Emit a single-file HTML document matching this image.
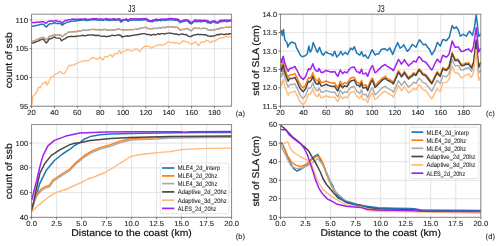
<!DOCTYPE html>
<html><head><meta charset="utf-8"><style>
html,body{margin:0;padding:0;background:#fff;}
svg{display:block;will-change:transform;text-rendering:geometricPrecision;font-family:"Liberation Sans", sans-serif;}
</style></head><body>
<svg width="500" height="246" viewBox="0 0 500 246">
<rect width="500" height="246" fill="#fff"/>
<path d="M31.60 14.20V106.20M54.46 14.20V106.20M77.31 14.20V106.20M100.17 14.20V106.20M123.03 14.20V106.20M145.89 14.20V106.20M168.74 14.20V106.20M191.60 14.20V106.20M214.46 14.20V106.20M31.60 106.20H231.60M31.60 77.45H231.60M31.60 48.70H231.60M31.60 19.95H231.60" stroke="#dcdcdc" stroke-width="0.8" fill="none"/>
<path d="M31.80,26.20 33.17,26.00 34.55,26.08 35.92,25.42 37.30,25.21 38.82,24.98 40.35,24.32 41.88,24.31 43.40,24.12 44.95,25.96 46.50,27.03 48.90,24.22 50.27,23.63 51.65,23.88 53.02,23.37 54.40,22.39 55.92,23.41 57.45,23.57 58.98,23.46 60.50,23.60 62.30,25.29 63.85,23.91 65.40,23.13 66.86,22.34 68.32,22.10 69.78,21.79 71.24,21.24 72.70,21.27 74.22,21.00 75.75,21.11 77.28,20.57 78.80,20.43 80.17,20.25 81.55,20.35 82.92,20.11 84.30,19.90 85.67,20.50 87.05,20.45 88.42,20.26 89.80,20.09 91.15,19.74 92.50,19.68 93.85,19.74 95.20,19.56 96.55,20.19 97.90,19.88 99.25,20.29 100.60,19.89 101.95,20.41 103.30,20.32 104.65,19.57 106.00,19.77 107.35,20.41 108.70,20.03 110.05,20.50 111.40,19.98 112.75,19.70 114.10,20.21 115.45,20.36 116.80,19.91 118.15,19.76 119.50,19.99 120.90,22.16 123.00,20.58 124.75,19.96 126.50,20.02 128.20,21.40 130.00,19.76 131.33,20.41 132.67,19.84 134.00,20.17 135.33,20.05 136.67,19.80 138.00,20.28 139.33,19.72 140.67,20.17 142.00,19.68 143.33,19.94 144.67,19.74 146.00,19.77 147.63,21.01 149.27,21.46 150.90,21.61 152.53,21.74 154.17,20.73 155.80,20.50 157.13,20.86 158.45,20.62 159.78,20.08 161.11,20.82 162.44,20.07 163.76,20.06 165.09,20.47 166.42,20.02 167.75,19.94 169.07,19.68 170.40,19.65 171.86,20.13 173.32,19.87 174.78,20.23 176.24,20.07 177.70,20.18 180.10,22.64 181.62,21.82 183.15,21.50 184.67,21.36 186.20,20.35 187.83,21.33 189.47,23.01 191.10,23.93 192.95,22.32 194.80,21.17 196.13,21.64 197.46,21.79 198.79,21.10 200.11,21.75 201.44,21.66 202.77,21.38 204.10,21.19 205.40,21.31 206.70,21.65 208.00,22.88 209.30,22.63 210.60,23.46 213.10,21.66 214.73,22.63 216.37,22.90 218.00,23.10 220.40,21.39 221.78,21.81 223.15,21.15 224.53,21.22 225.90,21.45 227.28,21.64 228.65,21.35 230.03,20.98 231.40,21.10" stroke="#1f77b4" stroke-width="1.5" fill="none" stroke-linejoin="round" stroke-linecap="round"/>
<path d="M31.80,41.50 33.17,41.03 34.55,40.83 35.92,39.89 37.30,39.41 38.82,38.88 40.35,37.92 41.88,37.61 43.40,37.12 44.95,38.76 46.50,39.63 48.00,38.07 49.50,36.13 51.13,36.18 52.77,35.47 54.40,34.29 55.80,35.11 57.20,35.07 58.60,34.76 60.00,34.70 62.40,36.69 64.90,34.16 66.50,33.58 68.10,32.10 69.47,32.02 70.83,31.87 72.20,31.48 73.57,31.67 74.93,31.45 76.30,31.61 77.61,31.12 78.92,31.03 80.24,30.70 81.55,30.65 82.86,30.26 84.17,29.90 85.49,30.35 86.80,30.15 88.10,29.98 89.40,29.84 90.70,29.46 92.00,29.36 93.30,29.38 94.60,29.16 95.90,29.76 97.20,29.41 98.50,29.78 99.80,29.34 101.20,29.91 102.60,29.87 104.00,29.16 105.40,29.40 106.80,30.09 108.20,29.75 109.60,30.26 111.00,29.79 112.40,29.55 113.82,29.91 115.23,29.90 116.65,29.29 118.07,28.98 119.48,29.06 120.90,29.48 122.75,29.82 124.60,29.78 125.96,29.79 127.31,29.56 128.67,29.42 130.02,29.98 131.38,29.32 132.73,29.56 134.09,29.36 135.44,29.02 136.80,29.41 138.43,28.47 140.07,28.53 141.70,27.65 143.13,27.73 144.57,27.34 146.00,27.19 147.63,28.29 149.27,28.61 150.90,28.62 152.36,28.97 153.82,28.18 155.28,28.16 156.74,28.40 158.20,28.03 159.56,27.43 160.91,28.12 162.27,27.31 163.62,27.24 164.98,27.59 166.33,27.08 167.69,26.94 169.04,26.63 170.40,26.53 171.86,27.07 173.32,26.87 174.78,27.29 176.24,27.18 177.70,27.36 180.10,30.01 181.58,29.39 183.06,29.27 184.54,29.33 186.02,28.51 187.50,28.29 189.30,29.87 191.10,30.69 192.95,28.97 194.80,27.72 196.13,28.24 197.46,28.45 198.79,27.81 200.11,28.52 201.44,28.49 202.77,28.26 204.10,28.13 205.40,28.24 206.70,28.58 208.00,29.82 209.30,29.56 210.60,30.38 212.08,29.74 213.56,30.01 215.04,29.57 216.52,29.05 218.00,28.71 219.30,28.82 220.60,27.85 221.90,27.62 223.20,27.53 224.50,27.42 225.88,27.20 227.26,26.90 228.64,27.48 230.02,26.83 231.40,27.10" stroke="#ff7f0e" stroke-width="1.2" fill="none" stroke-linejoin="round" stroke-linecap="round"/>
<path d="M31.80,41.70 33.17,41.23 34.55,41.03 35.92,40.09 37.30,39.61 38.82,39.08 40.35,38.12 41.88,37.81 43.40,37.32 44.95,38.96 46.50,39.83 48.00,38.27 49.50,36.33 51.13,36.38 52.77,35.67 54.40,34.49 55.80,35.31 57.20,35.27 58.60,34.96 60.00,34.90 62.40,36.89 64.90,34.36 66.50,33.78 68.10,32.30 69.47,32.22 70.83,32.07 72.20,31.68 73.57,31.87 74.93,31.65 76.30,31.81 77.61,31.32 78.92,31.23 80.24,30.90 81.55,30.85 82.86,30.46 84.17,30.10 85.49,30.55 86.80,30.35 88.10,30.18 89.40,30.04 90.70,29.66 92.00,29.56 93.30,29.58 94.60,29.36 95.90,29.96 97.20,29.61 98.50,29.98 99.80,29.54 101.20,30.11 102.60,30.07 104.00,29.36 105.40,29.60 106.80,30.29 108.20,29.95 109.60,30.46 111.00,29.99 112.40,29.75 113.82,30.11 115.23,30.10 116.65,29.49 118.07,29.18 119.48,29.26 120.90,29.68 122.75,30.02 124.60,29.98 125.96,29.99 127.31,29.76 128.67,29.62 130.02,30.18 131.38,29.52 132.73,29.76 134.09,29.56 135.44,29.22 136.80,29.61 138.43,28.67 140.07,28.73 141.70,27.85 143.13,27.93 144.57,27.54 146.00,27.39 147.63,28.49 149.27,28.81 150.90,28.82 152.36,29.17 153.82,28.38 155.28,28.36 156.74,28.60 158.20,28.23 159.56,27.63 160.91,28.32 162.27,27.51 163.62,27.44 164.98,27.79 166.33,27.28 167.69,27.14 169.04,26.83 170.40,26.73 171.86,27.27 173.32,27.07 174.78,27.49 176.24,27.38 177.70,27.56 180.10,30.21 181.58,29.59 183.06,29.47 184.54,29.53 186.02,28.71 187.50,28.49 189.30,30.07 191.10,30.89 192.95,29.17 194.80,27.92 196.13,28.44 197.46,28.65 198.79,28.01 200.11,28.72 201.44,28.69 202.77,28.46 204.10,28.33 205.40,28.44 206.70,28.78 208.00,30.02 209.30,29.76 210.60,30.58 212.08,29.94 213.56,30.21 215.04,29.77 216.52,29.25 218.00,28.91 219.30,29.02 220.60,28.05 221.90,27.82 223.20,27.73 224.50,27.62 225.88,27.40 227.26,27.10 228.64,27.68 230.02,27.03 231.40,27.30" stroke="#aaaaaa" stroke-width="1.35" fill="none" stroke-linejoin="round" stroke-linecap="round"/>
<path d="M31.80,43.30 33.17,42.88 34.55,42.73 35.92,41.84 37.30,41.41 38.82,40.88 40.35,39.92 41.88,39.61 43.40,39.12 44.95,41.41 46.50,42.93 48.00,40.97 49.50,38.63 51.13,38.68 52.77,37.97 54.40,36.79 55.80,37.88 57.20,38.12 58.60,38.09 60.00,38.30 61.60,40.79 64.10,38.96 65.43,38.63 66.77,37.40 68.10,36.72 69.47,36.63 70.83,36.31 72.20,36.57 73.57,36.41 74.93,36.64 76.30,36.22 77.61,36.18 78.92,35.90 80.24,35.90 81.55,35.56 82.86,35.25 84.17,35.75 85.49,35.60 86.80,35.31 88.14,35.23 89.48,34.92 90.82,34.88 92.16,34.98 93.50,34.83 94.84,35.50 96.18,35.21 97.52,35.65 98.86,35.28 100.20,35.84 102.05,36.41 103.90,36.32 105.32,36.31 106.73,36.75 108.15,36.15 109.57,36.41 110.98,35.69 112.40,35.20 113.82,35.61 115.23,35.67 116.65,35.13 118.07,34.88 119.48,35.02 120.90,35.50 122.10,37.23 123.53,36.46 124.97,36.37 126.40,36.04 127.83,35.80 129.27,36.27 130.70,35.51 132.07,35.63 133.45,35.30 134.82,34.85 136.20,35.11 137.57,34.34 138.95,34.58 140.32,33.88 141.70,33.93 143.13,33.67 144.57,33.66 146.00,34.22 147.63,34.51 149.27,34.49 150.90,35.45 152.36,34.62 153.82,34.56 155.28,34.76 156.74,34.35 158.20,33.64 159.72,34.39 161.25,33.64 162.78,33.63 164.30,34.05 165.83,33.55 167.35,33.42 168.88,33.12 170.40,33.03 171.82,33.66 173.23,33.54 174.65,34.04 176.07,34.02 177.48,34.27 178.90,34.91 180.75,34.14 182.60,33.87 184.02,34.61 185.43,34.48 186.85,34.94 188.27,36.10 189.68,36.50 191.10,36.47 192.95,35.37 194.80,34.82 196.30,34.90 197.80,34.13 199.30,34.71 200.80,34.54 202.24,34.61 203.69,34.76 205.13,34.79 206.57,35.04 208.01,36.19 209.46,35.85 210.90,36.58 212.27,35.86 213.63,36.06 215.00,35.54 216.37,34.95 217.73,34.52 219.10,34.70 220.42,34.03 221.74,34.10 223.07,34.32 224.39,34.51 225.71,34.21 227.03,33.84 228.36,34.33 229.68,33.61 231.00,33.80" stroke="#474747" stroke-width="1.4" fill="none" stroke-linejoin="round" stroke-linecap="round"/>
<path d="M32.10,104.00 32.30,101.08 32.50,97.09 34.00,95.25 35.70,93.61 37.40,90.32 38.50,86.96 40.20,88.02 41.90,84.68 43.60,82.71 45.30,82.83 45.90,81.42 47.00,85.13 48.20,83.23 49.90,79.27 51.40,76.86 52.90,76.68 54.40,75.15 55.92,74.09 57.45,73.41 58.98,72.15 60.50,71.32 62.30,73.29 64.10,73.88 65.73,71.23 67.37,68.47 69.00,65.34 70.63,65.52 72.27,65.05 73.90,65.18 75.53,63.93 77.17,63.30 78.80,62.30 80.26,62.05 81.72,61.28 83.18,60.55 84.64,61.08 86.10,60.59 88.00,60.68 89.63,59.69 91.27,58.34 92.90,57.42 94.70,58.40 96.50,59.00 98.35,58.77 100.20,57.06 102.60,60.09 105.10,56.44 106.62,56.92 108.15,56.44 109.67,54.93 111.20,54.89 112.40,57.17 114.80,53.46 117.30,53.57 119.70,50.36 120.90,53.50 123.40,51.28 125.20,50.89 127.00,49.58 128.85,49.92 130.70,50.87 132.50,50.80 134.30,49.56 135.85,49.02 137.40,49.54 139.80,51.74 141.65,48.93 143.50,47.22 144.93,46.15 146.37,46.48 147.80,46.13 149.65,46.62 151.50,48.22 152.88,46.78 154.25,46.90 155.62,45.56 157.00,45.39 158.46,44.86 159.92,44.70 161.38,45.44 162.84,44.96 164.30,44.03 165.83,44.04 167.37,42.29 168.90,41.75 170.47,42.62 172.05,42.55 173.62,42.02 175.20,43.49 176.57,42.62 177.95,42.91 179.32,43.86 180.70,43.46 182.60,41.01 183.95,40.98 185.30,41.28 186.65,42.24 188.00,42.04 189.85,43.64 191.70,44.42 193.55,42.73 195.40,41.64 196.75,43.23 198.10,45.60 199.45,44.66 200.80,42.36 202.18,41.77 203.55,42.27 204.93,41.59 206.30,40.25 207.83,40.60 209.37,41.80 210.90,42.52 212.43,40.88 213.97,41.33 215.50,40.64 216.88,39.77 218.25,39.04 219.62,38.12 221.00,37.55 222.35,38.40 223.70,36.93 225.05,37.14 226.40,36.06 227.93,37.02 229.47,36.87 231.00,36.90" stroke="#ffb978" stroke-width="1.3" fill="none" stroke-linejoin="round" stroke-linecap="round"/>
<path d="M31.80,22.50 33.17,22.50 34.55,22.78 35.92,22.32 37.30,22.31 38.82,22.20 40.35,21.67 41.88,21.79 43.40,21.72 45.90,23.36 48.30,21.23 49.82,21.20 51.35,20.78 52.88,21.20 54.40,20.87 55.92,20.44 57.45,21.43 58.98,21.57 60.50,21.44 62.30,23.20 63.85,21.59 65.40,20.26 66.86,20.49 68.32,19.82 69.78,19.70 71.24,19.51 72.70,19.08 74.22,19.37 75.75,19.25 77.28,19.51 78.80,19.12 80.17,19.20 81.55,19.05 82.92,19.17 84.30,18.96 85.67,18.78 87.05,19.40 88.42,19.37 89.80,19.21 91.15,19.10 92.50,18.75 93.85,18.68 95.20,18.75 96.55,18.56 97.90,19.19 99.25,18.87 100.60,19.28 101.95,18.88 103.30,19.40 104.65,19.31 106.00,18.56 107.35,18.76 108.70,19.40 110.05,19.01 111.40,19.48 112.75,18.96 114.10,18.68 115.45,19.19 116.80,19.33 118.15,18.88 119.50,18.73 120.90,20.55 123.00,19.72 124.75,19.48 126.50,18.86 128.20,20.47 130.00,18.74 131.33,18.69 132.67,19.33 134.00,18.76 135.33,19.09 136.67,18.97 138.00,18.72 139.33,19.19 140.67,18.63 142.00,19.08 143.33,18.59 144.67,18.85 146.00,18.64 147.63,19.29 149.27,20.52 150.90,20.97 152.53,20.12 154.17,20.25 155.80,19.24 157.13,19.35 158.45,19.71 159.78,19.46 161.11,18.92 162.44,19.67 163.76,18.91 165.09,18.90 166.42,19.31 167.75,18.86 169.07,18.77 170.40,18.52 171.86,18.57 173.32,19.05 174.78,18.79 176.24,19.15 177.70,18.98 180.10,21.06 181.62,21.11 183.15,20.29 184.67,19.97 186.20,19.83 187.83,20.21 189.47,21.19 191.10,22.87 192.95,21.69 194.80,20.07 196.13,19.99 197.46,20.46 198.79,20.61 200.11,19.91 201.44,20.56 202.77,20.47 204.10,20.19 205.40,20.43 206.70,20.54 208.00,20.88 209.30,22.12 210.60,21.86 213.10,20.88 214.73,20.95 216.37,21.92 218.00,22.19 220.40,20.31 221.78,20.13 223.15,20.55 224.53,19.89 225.90,19.96 227.28,20.18 228.65,20.37 230.03,20.08 231.40,19.90" stroke="#a020f0" stroke-width="1.5" fill="none" stroke-linejoin="round" stroke-linecap="round"/>
<rect x="31.60" y="14.20" width="200.00" height="92.00" fill="none" stroke="#808080" stroke-width="0.9"/>
<path d="M31.60 106.20v2.0M54.46 106.20v2.0M77.31 106.20v2.0M100.17 106.20v2.0M123.03 106.20v2.0M145.89 106.20v2.0M168.74 106.20v2.0M191.60 106.20v2.0M214.46 106.20v2.0M31.60 106.20h-2.0M31.60 77.45h-2.0M31.60 48.70h-2.0M31.60 19.95h-2.0" stroke="#555" stroke-width="0.8" fill="none"/>
<text x="31.60" y="115.20" font-size="7.3" text-anchor="middle" fill="#262626" stroke="#262626" stroke-width="0.08" textLength="8.46" lengthAdjust="spacingAndGlyphs">20</text>
<text x="54.46" y="115.20" font-size="7.3" text-anchor="middle" fill="#262626" stroke="#262626" stroke-width="0.08" textLength="8.46" lengthAdjust="spacingAndGlyphs">40</text>
<text x="77.31" y="115.20" font-size="7.3" text-anchor="middle" fill="#262626" stroke="#262626" stroke-width="0.08" textLength="8.46" lengthAdjust="spacingAndGlyphs">60</text>
<text x="100.17" y="115.20" font-size="7.3" text-anchor="middle" fill="#262626" stroke="#262626" stroke-width="0.08" textLength="8.46" lengthAdjust="spacingAndGlyphs">80</text>
<text x="123.03" y="115.20" font-size="7.3" text-anchor="middle" fill="#262626" stroke="#262626" stroke-width="0.08" textLength="12.69" lengthAdjust="spacingAndGlyphs">100</text>
<text x="145.89" y="115.20" font-size="7.3" text-anchor="middle" fill="#262626" stroke="#262626" stroke-width="0.08" textLength="12.69" lengthAdjust="spacingAndGlyphs">120</text>
<text x="168.74" y="115.20" font-size="7.3" text-anchor="middle" fill="#262626" stroke="#262626" stroke-width="0.08" textLength="12.69" lengthAdjust="spacingAndGlyphs">140</text>
<text x="191.60" y="115.20" font-size="7.3" text-anchor="middle" fill="#262626" stroke="#262626" stroke-width="0.08" textLength="12.69" lengthAdjust="spacingAndGlyphs">160</text>
<text x="214.46" y="115.20" font-size="7.3" text-anchor="middle" fill="#262626" stroke="#262626" stroke-width="0.08" textLength="12.69" lengthAdjust="spacingAndGlyphs">180</text>
<text x="28.20" y="108.80" font-size="7.3" text-anchor="end" fill="#262626" stroke="#262626" stroke-width="0.08" textLength="8.46" lengthAdjust="spacingAndGlyphs">95</text>
<text x="28.20" y="80.05" font-size="7.3" text-anchor="end" fill="#262626" stroke="#262626" stroke-width="0.08" textLength="12.69" lengthAdjust="spacingAndGlyphs">100</text>
<text x="28.20" y="51.30" font-size="7.3" text-anchor="end" fill="#262626" stroke="#262626" stroke-width="0.08" textLength="12.69" lengthAdjust="spacingAndGlyphs">105</text>
<text x="28.20" y="22.55" font-size="7.3" text-anchor="end" fill="#262626" stroke="#262626" stroke-width="0.08" textLength="12.69" lengthAdjust="spacingAndGlyphs">110</text>
<text x="131.80" y="12.00" font-size="10.0" text-anchor="middle" fill="#262626" stroke="#262626" stroke-width="0.08" textLength="7.45" lengthAdjust="spacingAndGlyphs">J3</text>
<text x="12.40" y="60.30" font-size="9.7" text-anchor="middle" fill="#111" stroke="#111" stroke-width="0.18" textLength="56.11" lengthAdjust="spacingAndGlyphs" transform="rotate(-90 12.40 60.30)">count of ssb</text>
<text x="240.40" y="116.20" font-size="7.6" text-anchor="middle" fill="#262626" stroke="#262626" stroke-width="0.08" textLength="9.19" lengthAdjust="spacingAndGlyphs">(a)</text>
<path d="M280.50 14.20V106.20M303.39 14.20V106.20M326.28 14.20V106.20M349.17 14.20V106.20M372.07 14.20V106.20M394.96 14.20V106.20M417.85 14.20V106.20M440.74 14.20V106.20M463.63 14.20V106.20M280.50 106.20H480.80M280.50 87.80H480.80M280.50 69.40H480.80M280.50 51.00H480.80M280.50 32.60H480.80M280.50 14.20H480.80" stroke="#dcdcdc" stroke-width="0.8" fill="none"/>
<path d="M280.60,32.30 281.40,30.75 282.30,35.45 283.50,29.47 284.70,39.64 285.90,41.37 287.10,42.86 287.80,47.01 289.00,44.64 291.50,42.03 293.60,42.67 295.10,43.19 296.60,48.12 298.10,50.53 300.20,54.92 301.70,56.52 303.20,56.43 305.20,55.75 307.30,53.88 308.80,46.10 310.30,52.28 311.80,49.25 313.20,42.46 315.40,47.99 317.40,52.44 319.50,47.32 321.50,53.11 323.50,55.12 324.80,52.98 326.10,51.88 328.10,53.44 330.60,53.67 332.70,55.85 334.70,51.36 336.70,56.96 338.80,55.01 340.90,51.48 342.70,54.93 345.10,52.41 347.60,54.49 349.10,51.30 350.60,48.10 352.50,49.79 354.30,46.70 356.70,52.94 358.25,54.17 359.80,55.03 361.60,51.68 363.40,56.43 365.30,54.79 366.80,57.33 368.30,58.32 370.15,54.02 372.00,49.76 373.50,51.90 375.00,54.99 376.85,53.94 378.70,53.97 381.10,49.76 382.95,48.97 384.80,48.68 387.20,50.51 389.70,47.90 391.20,51.14 392.70,54.48 394.25,50.41 395.80,46.84 397.70,42.64 400.10,48.27 401.95,46.91 403.80,44.76 405.60,48.45 407.40,51.45 409.03,49.56 410.67,47.16 412.30,44.38 414.15,45.74 416.00,47.27 417.80,42.97 419.60,39.76 421.45,42.17 423.30,44.82 425.70,44.16 427.55,47.32 429.40,49.13 431.80,54.75 434.20,51.19 435.75,47.42 437.30,42.38 438.80,44.30 440.30,45.95 442.80,39.48 444.60,40.07 446.40,40.76 447.85,38.73 449.30,37.42 450.75,31.21 452.20,25.58 454.20,28.66 456.30,26.85 458.30,29.98 460.30,36.13 461.85,35.08 463.40,34.28 464.90,35.44 466.40,36.16 467.95,33.35 469.50,31.22 471.00,33.17 472.50,35.37 474.60,26.65 476.20,14.69 477.60,26.22 478.60,36.52 480.40,34.30" stroke="#1f77b4" stroke-width="1.5" fill="none" stroke-linejoin="round" stroke-linecap="round"/>
<path d="M280.60,66.09 281.30,64.75 281.70,67.71 282.50,63.25 283.30,61.73 284.10,66.18 285.30,70.15 286.90,74.54 288.20,77.57 289.40,75.34 290.20,74.80 292.60,74.69 294.90,73.68 295.90,75.73 297.50,78.68 299.10,82.62 300.80,85.49 303.20,87.96 305.60,85.11 306.50,82.57 308.50,77.55 310.10,78.30 311.45,76.23 312.80,72.78 314.40,77.40 316.20,80.27 318.00,80.85 318.90,78.06 321.30,82.58 322.93,82.33 324.57,81.73 326.20,80.81 327.60,81.77 329.00,82.07 330.40,82.85 331.83,82.85 333.27,83.18 334.70,82.79 336.00,85.21 337.80,87.76 340.30,81.34 342.70,84.72 344.50,82.68 347.00,83.60 348.80,80.57 350.60,78.32 352.45,77.57 354.30,77.21 356.70,82.27 358.25,82.63 359.80,84.12 361.60,80.39 362.80,85.14 364.35,85.38 365.90,84.67 367.70,88.24 369.55,83.18 371.40,79.19 372.60,78.14 375.00,85.14 376.85,83.82 378.70,81.63 380.20,80.29 381.70,78.48 383.45,77.49 385.20,76.39 386.53,77.65 387.87,78.63 389.20,79.04 390.57,80.24 391.93,80.64 393.30,82.29 395.30,77.95 396.85,74.63 398.40,70.79 399.90,72.80 401.40,75.45 402.95,73.80 404.50,71.23 405.83,73.76 407.17,75.56 408.50,77.60 410.20,75.92 411.90,75.00 413.60,72.74 416.00,74.07 417.50,71.23 419.00,68.73 420.85,70.43 422.70,73.29 424.20,73.71 425.70,74.37 427.55,76.78 429.40,79.30 431.80,82.36 433.60,78.92 435.45,74.94 437.30,71.54 438.80,73.73 440.30,75.03 442.80,67.57 444.60,68.39 446.40,69.15 447.75,67.60 449.10,65.91 450.65,59.18 452.20,52.53 453.70,56.18 455.20,59.37 456.75,59.26 458.30,59.34 459.80,61.82 461.30,64.38 462.85,64.17 464.40,63.93 465.77,62.85 467.13,63.24 468.50,62.67 470.00,64.84 471.50,66.83 473.50,62.09 474.85,51.00 476.20,39.60 477.60,55.53 478.60,66.45 480.40,62.32" stroke="#ff7f0e" stroke-width="1.5" fill="none" stroke-linejoin="round" stroke-linecap="round"/>
<path d="M280.60,75.13 281.30,73.83 281.70,76.82 282.50,72.42 283.30,70.96 284.10,75.46 285.30,79.51 286.90,84.01 288.20,87.13 289.40,84.98 290.20,84.50 292.60,84.55 294.90,83.69 295.90,85.82 297.50,88.87 299.10,92.93 300.80,95.91 303.20,98.41 305.60,95.46 306.50,92.89 308.50,87.79 310.10,88.48 311.45,86.36 312.80,82.85 314.40,87.41 316.20,90.21 318.00,90.72 318.90,87.89 321.30,92.32 322.93,92.00 324.57,91.34 326.20,90.35 327.60,91.26 329.00,91.50 330.40,92.23 331.83,92.18 333.27,92.45 334.70,92.00 336.00,94.37 337.80,96.84 340.30,90.35 342.70,93.76 344.50,91.76 347.00,92.72 348.80,89.72 350.60,87.50 352.45,86.77 354.30,86.45 356.70,91.55 358.25,91.94 359.80,93.45 361.60,89.75 362.80,94.52 364.35,94.79 365.90,94.10 367.70,97.70 369.55,92.67 371.40,88.71 372.60,87.68 375.00,94.73 376.85,93.43 378.70,91.27 380.20,89.96 381.70,88.17 383.45,87.21 385.20,86.14 386.53,87.43 387.87,88.43 389.20,88.86 390.57,90.08 391.93,90.51 393.30,92.18 395.30,87.87 396.85,84.58 398.40,80.76 399.90,82.76 401.40,85.40 402.95,83.69 404.50,81.06 405.83,83.54 407.17,85.29 408.50,87.28 410.20,85.54 411.90,84.56 413.60,82.23 416.00,83.47 417.50,80.57 419.00,78.01 420.85,79.65 422.70,82.44 424.20,82.80 425.70,83.41 427.55,85.75 429.40,88.20 431.80,91.16 433.60,87.66 435.45,83.61 437.30,80.14 438.80,82.26 440.30,83.49 442.80,75.72 444.60,76.31 446.40,76.85 447.75,75.13 449.10,73.27 450.65,66.35 452.20,59.50 453.70,62.97 455.20,65.97 456.75,65.67 458.30,65.55 459.80,67.84 461.30,70.22 462.85,69.82 464.40,69.38 465.77,68.13 467.13,68.35 468.50,67.61 470.00,69.59 471.50,71.40 473.50,66.40 474.85,55.26 476.20,43.80 477.60,61.13 478.60,73.05 480.40,70.72" stroke="#aaaaaa" stroke-width="1.4" fill="none" stroke-linejoin="round" stroke-linecap="round"/>
<path d="M280.60,69.60 281.30,68.27 281.70,71.23 282.50,66.78 283.30,65.28 284.10,69.74 285.30,73.73 286.90,78.15 288.20,81.19 289.40,78.98 290.20,78.45 292.60,78.38 294.90,77.40 295.90,79.47 297.50,82.44 299.10,86.41 300.80,89.28 303.20,91.71 305.60,88.82 306.50,86.27 308.50,81.22 310.10,81.95 311.45,79.86 312.80,76.39 314.40,80.98 316.20,83.82 318.00,84.38 318.90,81.57 321.30,86.06 322.93,85.78 324.57,85.16 326.20,84.21 327.60,85.15 329.00,85.43 330.40,86.19 331.83,86.18 333.27,86.48 334.70,86.07 336.00,88.47 337.80,90.99 340.30,84.53 342.70,87.84 344.50,85.75 347.00,86.61 348.80,83.52 350.60,81.22 352.45,80.41 354.30,80.01 356.70,85.00 358.25,85.31 359.80,86.76 361.60,82.98 362.80,87.70 364.35,87.89 365.90,87.14 367.70,90.65 369.55,85.54 371.40,81.50 372.60,80.42 375.00,87.35 376.85,85.97 378.70,83.73 380.20,82.35 381.70,80.50 383.45,79.46 385.20,78.31 386.53,79.53 387.87,80.48 389.20,80.84 390.57,82.00 391.93,82.37 393.30,83.98 395.30,79.58 396.85,76.22 398.40,72.34 399.90,74.32 401.40,76.94 402.95,75.29 404.50,72.71 405.83,75.24 407.17,77.03 408.50,79.07 410.20,77.38 411.90,76.46 413.60,74.19 416.00,75.51 417.50,72.66 419.00,70.16 420.85,71.85 422.70,74.71 424.20,75.12 425.70,75.77 427.55,78.18 429.40,80.70 431.80,83.74 433.60,80.29 435.45,76.31 437.30,72.91 438.80,75.08 440.30,76.38 442.80,68.91 444.60,69.72 446.40,70.48 447.75,68.93 449.10,67.22 450.65,60.50 452.20,53.84 453.70,57.48 455.20,60.66 456.75,60.55 458.30,60.62 459.80,63.09 461.30,65.65 462.85,65.44 464.40,65.19 465.77,64.11 467.13,64.49 468.50,63.92 470.00,66.08 471.50,68.07 473.50,63.32 474.85,52.22 476.20,40.82 477.60,56.75 478.60,67.66 480.40,63.52" stroke="#474747" stroke-width="1.5" fill="none" stroke-linejoin="round" stroke-linecap="round"/>
<path d="M280.60,84.06 281.30,82.69 281.70,85.63 282.50,81.13 283.30,79.58 284.10,83.99 285.30,87.91 286.90,92.23 288.20,95.19 289.40,92.92 290.20,92.34 292.60,92.12 294.90,91.00 295.90,93.01 297.50,95.88 299.10,99.76 300.80,102.54 303.20,104.85 305.60,101.79 306.50,99.17 308.50,93.98 310.10,94.59 311.45,92.40 312.80,88.83 314.40,93.30 316.20,96.01 318.00,96.44 318.90,93.57 321.30,97.88 322.93,97.48 324.57,96.74 326.20,95.67 327.60,96.51 329.00,96.69 330.40,97.35 331.83,97.22 333.27,97.42 334.70,96.90 336.00,99.21 337.80,101.78 340.30,95.41 342.70,98.82 344.50,96.81 347.00,97.78 348.80,94.77 350.60,92.55 352.45,91.82 354.30,91.50 356.70,96.60 358.25,96.98 359.80,98.49 361.60,94.79 362.80,99.56 364.35,99.82 365.90,99.14 367.70,102.73 369.55,97.70 371.40,93.74 372.60,92.71 375.00,99.75 376.85,98.46 378.70,96.29 380.20,94.98 381.70,93.19 383.45,92.23 385.20,91.16 386.53,92.44 387.87,93.44 389.20,93.87 390.57,95.09 391.93,95.51 393.30,97.18 395.30,92.88 396.85,89.58 398.40,85.77 399.90,87.82 401.40,90.52 402.95,88.95 404.50,86.45 405.83,89.05 407.17,90.92 408.50,93.02 410.20,91.43 411.90,90.60 413.60,88.42 416.00,89.87 417.50,87.10 419.00,84.68 420.85,86.47 422.70,89.42 424.20,89.92 425.70,90.65 427.55,93.16 429.40,95.77 431.80,98.95 433.60,95.60 435.45,91.71 437.30,88.41 438.80,90.56 440.30,91.84 442.80,82.79 444.60,82.61 446.40,82.38 447.75,80.90 449.10,79.28 450.65,72.65 452.20,66.08 453.70,69.82 455.20,73.09 456.75,73.07 458.30,73.24 459.80,75.54 461.30,77.92 462.85,77.18 464.40,76.39 465.77,74.87 467.13,74.81 468.50,73.80 470.00,75.75 471.50,77.52 473.50,72.49 474.85,61.20 476.20,49.60 477.60,67.87 478.60,80.45 480.40,76.47" stroke="#ffb978" stroke-width="1.4" fill="none" stroke-linejoin="round" stroke-linecap="round"/>
<path d="M280.60,61.00 281.30,59.55 281.70,62.45 282.50,57.87 283.30,56.24 284.10,60.57 285.30,64.36 286.90,68.51 288.20,71.34 289.40,68.93 290.20,68.27 292.60,67.79 294.90,66.42 295.90,68.33 297.50,71.02 299.10,74.72 300.80,77.33 303.20,79.45 305.60,76.48 306.50,73.90 308.50,68.78 310.10,69.45 311.45,67.31 312.80,63.79 314.40,68.24 316.20,70.92 318.00,71.31 318.90,68.42 321.30,72.68 322.93,72.25 324.57,71.47 326.20,70.37 327.60,71.18 329.00,71.33 330.40,71.96 331.83,71.81 333.27,71.98 334.70,71.43 336.00,73.71 337.80,76.39 340.30,70.15 342.70,73.70 344.50,71.79 347.00,72.90 348.80,69.99 350.60,67.87 352.45,67.23 354.30,66.98 356.70,71.73 358.25,71.89 359.80,73.18 361.60,69.22 362.80,73.82 364.35,73.86 365.90,72.95 367.70,76.29 369.55,70.99 371.40,66.77 372.60,65.66 375.00,72.77 376.85,71.53 378.70,69.41 380.20,68.15 381.70,66.39 383.45,65.48 385.20,64.46 386.53,65.77 387.87,66.81 389.20,67.27 390.57,68.53 391.93,68.99 393.30,70.70 395.30,66.45 396.85,63.19 398.40,59.42 399.90,61.43 401.40,64.09 402.95,62.37 404.50,59.72 405.83,62.20 407.17,63.93 408.50,65.92 410.20,64.16 411.90,63.17 413.60,60.83 416.00,62.05 417.50,59.14 419.00,56.57 420.85,58.23 422.70,61.05 424.20,61.45 425.70,62.08 427.55,64.47 429.40,66.96 431.80,69.98 433.60,66.52 435.45,62.51 437.30,59.08 438.80,61.26 440.30,62.55 442.80,55.28 444.60,56.23 446.40,57.13 447.75,55.68 449.10,54.09 450.65,47.46 452.20,40.90 453.70,44.37 455.20,47.37 456.75,47.07 458.30,46.95 459.80,49.24 461.30,51.62 462.85,51.22 464.40,50.78 465.77,49.49 467.13,49.67 468.50,48.88 470.00,50.47 471.50,51.90 473.50,46.39 474.85,37.25 476.20,27.80 477.60,40.53 478.60,52.16 480.40,48.60" stroke="#a020f0" stroke-width="1.5" fill="none" stroke-linejoin="round" stroke-linecap="round"/>
<rect x="280.50" y="14.20" width="200.30" height="92.00" fill="none" stroke="#808080" stroke-width="0.9"/>
<path d="M280.50 106.20v2.0M303.39 106.20v2.0M326.28 106.20v2.0M349.17 106.20v2.0M372.07 106.20v2.0M394.96 106.20v2.0M417.85 106.20v2.0M440.74 106.20v2.0M463.63 106.20v2.0M280.50 106.20h-2.0M280.50 87.80h-2.0M280.50 69.40h-2.0M280.50 51.00h-2.0M280.50 32.60h-2.0M280.50 14.20h-2.0" stroke="#555" stroke-width="0.8" fill="none"/>
<text x="280.50" y="115.20" font-size="7.3" text-anchor="middle" fill="#262626" stroke="#262626" stroke-width="0.08" textLength="8.46" lengthAdjust="spacingAndGlyphs">20</text>
<text x="303.39" y="115.20" font-size="7.3" text-anchor="middle" fill="#262626" stroke="#262626" stroke-width="0.08" textLength="8.46" lengthAdjust="spacingAndGlyphs">40</text>
<text x="326.28" y="115.20" font-size="7.3" text-anchor="middle" fill="#262626" stroke="#262626" stroke-width="0.08" textLength="8.46" lengthAdjust="spacingAndGlyphs">60</text>
<text x="349.17" y="115.20" font-size="7.3" text-anchor="middle" fill="#262626" stroke="#262626" stroke-width="0.08" textLength="8.46" lengthAdjust="spacingAndGlyphs">80</text>
<text x="372.07" y="115.20" font-size="7.3" text-anchor="middle" fill="#262626" stroke="#262626" stroke-width="0.08" textLength="12.69" lengthAdjust="spacingAndGlyphs">100</text>
<text x="394.96" y="115.20" font-size="7.3" text-anchor="middle" fill="#262626" stroke="#262626" stroke-width="0.08" textLength="12.69" lengthAdjust="spacingAndGlyphs">120</text>
<text x="417.85" y="115.20" font-size="7.3" text-anchor="middle" fill="#262626" stroke="#262626" stroke-width="0.08" textLength="12.69" lengthAdjust="spacingAndGlyphs">140</text>
<text x="440.74" y="115.20" font-size="7.3" text-anchor="middle" fill="#262626" stroke="#262626" stroke-width="0.08" textLength="12.69" lengthAdjust="spacingAndGlyphs">160</text>
<text x="463.63" y="115.20" font-size="7.3" text-anchor="middle" fill="#262626" stroke="#262626" stroke-width="0.08" textLength="12.69" lengthAdjust="spacingAndGlyphs">180</text>
<text x="277.20" y="108.80" font-size="7.3" text-anchor="end" fill="#262626" stroke="#262626" stroke-width="0.08" textLength="14.80" lengthAdjust="spacingAndGlyphs">11.5</text>
<text x="277.20" y="90.40" font-size="7.3" text-anchor="end" fill="#262626" stroke="#262626" stroke-width="0.08" textLength="14.80" lengthAdjust="spacingAndGlyphs">12.0</text>
<text x="277.20" y="72.00" font-size="7.3" text-anchor="end" fill="#262626" stroke="#262626" stroke-width="0.08" textLength="14.80" lengthAdjust="spacingAndGlyphs">12.5</text>
<text x="277.20" y="53.60" font-size="7.3" text-anchor="end" fill="#262626" stroke="#262626" stroke-width="0.08" textLength="14.80" lengthAdjust="spacingAndGlyphs">13.0</text>
<text x="277.20" y="35.20" font-size="7.3" text-anchor="end" fill="#262626" stroke="#262626" stroke-width="0.08" textLength="14.80" lengthAdjust="spacingAndGlyphs">13.5</text>
<text x="277.20" y="16.80" font-size="7.3" text-anchor="end" fill="#262626" stroke="#262626" stroke-width="0.08" textLength="14.80" lengthAdjust="spacingAndGlyphs">14.0</text>
<text x="380.85" y="12.00" font-size="10.0" text-anchor="middle" fill="#262626" stroke="#262626" stroke-width="0.08" textLength="7.45" lengthAdjust="spacingAndGlyphs">J3</text>
<text x="258.70" y="60.30" font-size="9.7" text-anchor="middle" fill="#111" stroke="#111" stroke-width="0.18" textLength="70.73" lengthAdjust="spacingAndGlyphs" transform="rotate(-90 258.70 60.30)">std of SLA (cm)</text>
<text x="490.30" y="116.20" font-size="7.6" text-anchor="middle" fill="#262626" stroke="#262626" stroke-width="0.08" textLength="8.78" lengthAdjust="spacingAndGlyphs">(c)</text>
<path d="M31.60 124.60V217.30M56.60 124.60V217.30M81.60 124.60V217.30M106.60 124.60V217.30M131.60 124.60V217.30M156.60 124.60V217.30M181.60 124.60V217.30M206.60 124.60V217.30M231.60 124.60V217.30M31.60 217.30H231.60M31.60 192.58H231.60M31.60 167.86H231.60M31.60 143.14H231.60" stroke="#dcdcdc" stroke-width="0.8" fill="none"/>
<path d="M31.90,209.00 33.70,203.30 36.10,196.00 39.80,183.30 46.30,170.30 54.40,160.50 62.50,154.00 70.00,149.10 74.70,145.50 80.00,142.30 84.00,139.30 90.20,136.60 100.30,134.80 110.50,134.00 130.00,133.60 160.00,133.00 200.00,132.50 231.40,132.40" stroke="#1f77b4" stroke-width="1.5" fill="none" stroke-linejoin="round" stroke-linecap="round"/>
<path d="M31.90,210.60 34.30,201.20 37.30,195.10 41.00,190.90 44.60,188.40 49.50,186.80 52.80,181.60 62.50,175.10 70.00,170.30 76.30,163.60 84.40,157.00 92.50,152.20 100.70,148.90 110.50,146.20 119.80,142.80 131.10,140.00 142.50,139.40 157.20,138.96 170.00,138.05 231.40,137.20" stroke="#aaaaaa" stroke-width="1.5" fill="none" stroke-linejoin="round" stroke-linecap="round"/>
<path d="M31.90,209.00 34.30,199.60 37.30,193.50 41.00,189.30 44.60,186.80 49.50,185.20 52.80,180.00 62.50,173.50 70.00,168.70 76.30,162.00 84.40,155.40 92.50,150.60 100.70,147.30 110.50,144.60 119.80,141.20 131.10,138.50 142.50,138.00 157.20,137.70 170.00,136.90 231.40,136.60" stroke="#ff7f0e" stroke-width="1.3" fill="none" stroke-linejoin="round" stroke-linecap="round"/>
<path d="M31.90,209.00 33.70,202.00 36.10,190.00 39.80,173.50 44.60,163.80 51.10,155.60 59.30,150.10 70.00,144.60 74.70,143.30 81.10,142.40 90.20,140.50 100.70,139.50 110.50,138.60 130.00,137.60 170.00,136.60 231.40,136.10" stroke="#474747" stroke-width="1.5" fill="none" stroke-linejoin="round" stroke-linecap="round"/>
<path d="M31.90,211.70 37.30,206.30 42.20,202.10 48.30,197.20 54.40,193.30 60.00,191.10 64.60,190.00 70.00,187.50 81.70,182.40 88.00,179.00 93.00,177.30 98.80,175.00 105.00,172.50 111.00,169.00 116.50,165.50 124.60,160.30 130.00,157.00 132.80,155.90 142.50,154.30 157.20,152.60 170.00,151.60 181.00,149.60 206.00,148.40 231.40,148.10" stroke="#ffb978" stroke-width="1.4" fill="none" stroke-linejoin="round" stroke-linecap="round"/>
<path d="M31.90,199.50 33.30,194.00 35.50,185.00 36.50,181.50 39.80,167.00 43.00,155.60 47.90,145.90 54.40,140.40 65.80,136.10 80.00,133.00 106.00,132.00 130.00,131.80 160.00,131.80 180.00,131.80 185.00,132.20 190.00,131.80 231.40,131.60" stroke="#a020f0" stroke-width="1.5" fill="none" stroke-linejoin="round" stroke-linecap="round"/>
<rect x="31.60" y="124.60" width="200.00" height="92.70" fill="none" stroke="#808080" stroke-width="0.9"/>
<path d="M31.60 217.30v2.0M56.60 217.30v2.0M81.60 217.30v2.0M106.60 217.30v2.0M131.60 217.30v2.0M156.60 217.30v2.0M181.60 217.30v2.0M206.60 217.30v2.0M231.60 217.30v2.0M31.60 217.30h-2.0M31.60 192.58h-2.0M31.60 167.86h-2.0M31.60 143.14h-2.0" stroke="#555" stroke-width="0.8" fill="none"/>
<text x="31.60" y="226.00" font-size="7.3" text-anchor="middle" fill="#262626" stroke="#262626" stroke-width="0.08" textLength="10.57" lengthAdjust="spacingAndGlyphs">0.0</text>
<text x="56.60" y="226.00" font-size="7.3" text-anchor="middle" fill="#262626" stroke="#262626" stroke-width="0.08" textLength="10.57" lengthAdjust="spacingAndGlyphs">2.5</text>
<text x="81.60" y="226.00" font-size="7.3" text-anchor="middle" fill="#262626" stroke="#262626" stroke-width="0.08" textLength="10.57" lengthAdjust="spacingAndGlyphs">5.0</text>
<text x="106.60" y="226.00" font-size="7.3" text-anchor="middle" fill="#262626" stroke="#262626" stroke-width="0.08" textLength="10.57" lengthAdjust="spacingAndGlyphs">7.5</text>
<text x="131.60" y="226.00" font-size="7.3" text-anchor="middle" fill="#262626" stroke="#262626" stroke-width="0.08" textLength="14.80" lengthAdjust="spacingAndGlyphs">10.0</text>
<text x="156.60" y="226.00" font-size="7.3" text-anchor="middle" fill="#262626" stroke="#262626" stroke-width="0.08" textLength="14.80" lengthAdjust="spacingAndGlyphs">12.5</text>
<text x="181.60" y="226.00" font-size="7.3" text-anchor="middle" fill="#262626" stroke="#262626" stroke-width="0.08" textLength="14.80" lengthAdjust="spacingAndGlyphs">15.0</text>
<text x="206.60" y="226.00" font-size="7.3" text-anchor="middle" fill="#262626" stroke="#262626" stroke-width="0.08" textLength="14.80" lengthAdjust="spacingAndGlyphs">17.5</text>
<text x="231.60" y="226.00" font-size="7.3" text-anchor="middle" fill="#262626" stroke="#262626" stroke-width="0.08" textLength="14.80" lengthAdjust="spacingAndGlyphs">20.0</text>
<text x="28.20" y="219.90" font-size="7.3" text-anchor="end" fill="#262626" stroke="#262626" stroke-width="0.08" textLength="8.46" lengthAdjust="spacingAndGlyphs">40</text>
<text x="28.20" y="195.18" font-size="7.3" text-anchor="end" fill="#262626" stroke="#262626" stroke-width="0.08" textLength="8.46" lengthAdjust="spacingAndGlyphs">60</text>
<text x="28.20" y="170.46" font-size="7.3" text-anchor="end" fill="#262626" stroke="#262626" stroke-width="0.08" textLength="8.46" lengthAdjust="spacingAndGlyphs">80</text>
<text x="28.20" y="145.74" font-size="7.3" text-anchor="end" fill="#262626" stroke="#262626" stroke-width="0.08" textLength="12.69" lengthAdjust="spacingAndGlyphs">100</text>
<text x="131.60" y="235.80" font-size="9.7" text-anchor="middle" fill="#111" stroke="#111" stroke-width="0.18" textLength="120.46" lengthAdjust="spacingAndGlyphs">Distance to the coast (km)</text>
<text x="12.40" y="171.25" font-size="9.7" text-anchor="middle" fill="#111" stroke="#111" stroke-width="0.18" textLength="56.11" lengthAdjust="spacingAndGlyphs" transform="rotate(-90 12.40 171.25)">count of ssb</text>
<text x="240.40" y="239.20" font-size="7.6" text-anchor="middle" fill="#262626" stroke="#262626" stroke-width="0.08" textLength="9.34" lengthAdjust="spacingAndGlyphs">(b)</text>
<path d="M280.50 124.60V217.30M305.54 124.60V217.30M330.57 124.60V217.30M355.61 124.60V217.30M380.65 124.60V217.30M405.69 124.60V217.30M430.73 124.60V217.30M455.76 124.60V217.30M480.80 124.60V217.30M280.50 217.30H480.80M280.50 198.76H480.80M280.50 180.22H480.80M280.50 161.68H480.80M280.50 143.14H480.80M280.50 124.60H480.80" stroke="#dcdcdc" stroke-width="0.8" fill="none"/>
<path d="M280.80,142.50 282.60,143.90 286.10,152.90 290.20,163.20 293.40,168.40 296.70,171.00 300.80,169.30 305.60,165.80 310.50,160.20 314.60,156.40 317.80,154.30 320.30,159.40 323.50,165.90 326.00,171.50 330.10,181.30 332.40,185.00 334.10,189.50 338.00,196.40" stroke="#1f77b4" stroke-width="1.5" fill="none" stroke-linejoin="round" stroke-linecap="round"/>
<path d="M280.80,144.50 284.50,148.80 287.80,156.10 291.80,162.60 295.90,165.10 300.80,166.70 306.50,164.30 312.10,159.40 317.00,156.10 320.30,157.80 323.50,164.30 326.00,173.10 330.10,182.90 334.10,191.00 340.70,196.70 346.00,202.00 360.40,206.60 366.80,209.00 378.00,210.30 410.00,210.90 480.40,212.50" stroke="#ff7f0e" stroke-width="1.5" fill="none" stroke-linejoin="round" stroke-linecap="round"/>
<path d="M280.80,146.00 286.10,156.10 291.00,165.90 295.90,168.30 300.80,168.30 307.30,165.90 313.80,161.80 317.80,158.60 321.90,163.50 326.00,171.60 330.00,181.50 334.00,190.00 340.00,196.00 346.00,201.00 355.00,203.50 366.00,207.00 378.00,209.00 410.00,210.00 480.40,211.50" stroke="#aaaaaa" stroke-width="1.3" fill="none" stroke-linejoin="round" stroke-linecap="round"/>
<path d="M280.80,125.50 284.10,128.10 288.20,132.20 292.20,136.60 297.80,141.00 302.40,145.40 304.00,146.40 308.90,151.30 312.60,157.80 316.80,165.00 320.30,172.00 323.20,179.00 326.50,184.50 330.50,189.30 338.00,197.80 346.00,201.80 354.00,203.90 361.20,205.20 366.80,206.90 378.00,208.60 410.00,209.40 421.00,210.80 480.40,211.30" stroke="#474747" stroke-width="1.5" fill="none" stroke-linejoin="round" stroke-linecap="round"/>
<path d="M338.00,196.40 346.00,202.60 354.00,204.60 362.00,205.80 368.40,206.60 378.00,207.70 394.00,208.20 410.00,208.50 414.60,208.70 421.00,210.00 480.40,210.40" stroke="#1f77b4" stroke-width="1.5" fill="none" stroke-linejoin="round" stroke-linecap="round"/>
<path d="M280.80,148.00 284.50,143.10 287.80,141.80 291.00,149.60 294.30,152.90 300.80,157.00 307.30,160.20 311.30,164.30 312.20,165.50 314.60,173.10 317.90,181.30 322.80,189.40 330.00,195.40 336.40,199.40 346.00,205.00 362.00,207.40 368.40,210.60 378.00,211.30 410.00,211.90 480.40,213.00" stroke="#ffb978" stroke-width="1.4" fill="none" stroke-linejoin="round" stroke-linecap="round"/>
<path d="M280.80,129.50 286.10,130.10 289.40,135.00 294.30,139.10 300.80,143.90 304.00,148.00 307.30,154.50 309.70,161.80 312.10,169.10 313.00,171.50 315.40,179.60 318.70,187.80 322.80,194.30 327.60,199.10 330.00,200.20 336.40,203.90 346.00,206.30 360.40,207.40 366.80,209.30 378.00,210.10 410.00,210.40 414.60,210.50 421.00,211.30 480.40,211.60" stroke="#a020f0" stroke-width="1.5" fill="none" stroke-linejoin="round" stroke-linecap="round"/>
<rect x="280.50" y="124.60" width="200.30" height="92.70" fill="none" stroke="#808080" stroke-width="0.9"/>
<path d="M280.50 217.30v2.0M305.54 217.30v2.0M330.57 217.30v2.0M355.61 217.30v2.0M380.65 217.30v2.0M405.69 217.30v2.0M430.73 217.30v2.0M455.76 217.30v2.0M480.80 217.30v2.0M280.50 217.30h-2.0M280.50 198.76h-2.0M280.50 180.22h-2.0M280.50 161.68h-2.0M280.50 143.14h-2.0M280.50 124.60h-2.0" stroke="#555" stroke-width="0.8" fill="none"/>
<text x="280.50" y="226.00" font-size="7.3" text-anchor="middle" fill="#262626" stroke="#262626" stroke-width="0.08" textLength="10.57" lengthAdjust="spacingAndGlyphs">0.0</text>
<text x="305.54" y="226.00" font-size="7.3" text-anchor="middle" fill="#262626" stroke="#262626" stroke-width="0.08" textLength="10.57" lengthAdjust="spacingAndGlyphs">2.5</text>
<text x="330.57" y="226.00" font-size="7.3" text-anchor="middle" fill="#262626" stroke="#262626" stroke-width="0.08" textLength="10.57" lengthAdjust="spacingAndGlyphs">5.0</text>
<text x="355.61" y="226.00" font-size="7.3" text-anchor="middle" fill="#262626" stroke="#262626" stroke-width="0.08" textLength="10.57" lengthAdjust="spacingAndGlyphs">7.5</text>
<text x="380.65" y="226.00" font-size="7.3" text-anchor="middle" fill="#262626" stroke="#262626" stroke-width="0.08" textLength="14.80" lengthAdjust="spacingAndGlyphs">10.0</text>
<text x="405.69" y="226.00" font-size="7.3" text-anchor="middle" fill="#262626" stroke="#262626" stroke-width="0.08" textLength="14.80" lengthAdjust="spacingAndGlyphs">12.5</text>
<text x="430.73" y="226.00" font-size="7.3" text-anchor="middle" fill="#262626" stroke="#262626" stroke-width="0.08" textLength="14.80" lengthAdjust="spacingAndGlyphs">15.0</text>
<text x="455.76" y="226.00" font-size="7.3" text-anchor="middle" fill="#262626" stroke="#262626" stroke-width="0.08" textLength="14.80" lengthAdjust="spacingAndGlyphs">17.5</text>
<text x="480.80" y="226.00" font-size="7.3" text-anchor="middle" fill="#262626" stroke="#262626" stroke-width="0.08" textLength="14.80" lengthAdjust="spacingAndGlyphs">20.0</text>
<text x="277.20" y="219.90" font-size="7.3" text-anchor="end" fill="#262626" stroke="#262626" stroke-width="0.08" textLength="8.46" lengthAdjust="spacingAndGlyphs">10</text>
<text x="277.20" y="201.36" font-size="7.3" text-anchor="end" fill="#262626" stroke="#262626" stroke-width="0.08" textLength="8.46" lengthAdjust="spacingAndGlyphs">20</text>
<text x="277.20" y="182.82" font-size="7.3" text-anchor="end" fill="#262626" stroke="#262626" stroke-width="0.08" textLength="8.46" lengthAdjust="spacingAndGlyphs">30</text>
<text x="277.20" y="164.28" font-size="7.3" text-anchor="end" fill="#262626" stroke="#262626" stroke-width="0.08" textLength="8.46" lengthAdjust="spacingAndGlyphs">40</text>
<text x="277.20" y="145.74" font-size="7.3" text-anchor="end" fill="#262626" stroke="#262626" stroke-width="0.08" textLength="8.46" lengthAdjust="spacingAndGlyphs">50</text>
<text x="277.20" y="127.20" font-size="7.3" text-anchor="end" fill="#262626" stroke="#262626" stroke-width="0.08" textLength="8.46" lengthAdjust="spacingAndGlyphs">60</text>
<text x="380.65" y="235.80" font-size="9.7" text-anchor="middle" fill="#111" stroke="#111" stroke-width="0.18" textLength="120.46" lengthAdjust="spacingAndGlyphs">Distance to the coast (km)</text>
<text x="258.70" y="171.25" font-size="9.7" text-anchor="middle" fill="#111" stroke="#111" stroke-width="0.18" textLength="70.73" lengthAdjust="spacingAndGlyphs" transform="rotate(-90 258.70 171.25)">std of SLA (cm)</text>
<text x="490.30" y="239.20" font-size="7.6" text-anchor="middle" fill="#262626" stroke="#262626" stroke-width="0.08" textLength="9.34" lengthAdjust="spacingAndGlyphs">(d)</text>
<rect x="160.2" y="163.0" width="68.70000000000002" height="50.599999999999994" rx="1.5" fill="#ffffff" fill-opacity="0.8" stroke="#e0e0e0" stroke-width="0.8"/>
<path d="M162.0 168.0H174.4" stroke="#1f77b4" stroke-width="1.7"/>
<text x="177.80" y="170.40" font-size="6.4" text-anchor="start" fill="#262626" stroke="#262626" stroke-width="0.08" textLength="42.39" lengthAdjust="spacingAndGlyphs">MLE4_2d_interp</text>
<path d="M162.0 175.9H174.4" stroke="#ff7f0e" stroke-width="1.7"/>
<text x="177.80" y="178.30" font-size="6.4" text-anchor="start" fill="#262626" stroke="#262626" stroke-width="0.08" textLength="39.54" lengthAdjust="spacingAndGlyphs">MLE4_2d_20hz</text>
<path d="M162.0 183.6H174.4" stroke="#aaaaaa" stroke-width="1.7"/>
<text x="177.80" y="186.00" font-size="6.4" text-anchor="start" fill="#262626" stroke="#262626" stroke-width="0.08" textLength="39.54" lengthAdjust="spacingAndGlyphs">MLE4_3d_20hz</text>
<path d="M162.0 191.9H174.4" stroke="#474747" stroke-width="1.7"/>
<text x="177.80" y="194.30" font-size="6.4" text-anchor="start" fill="#262626" stroke="#262626" stroke-width="0.08" textLength="48.93" lengthAdjust="spacingAndGlyphs">Adaptive_2d_20hz</text>
<path d="M162.0 200.2H174.4" stroke="#ffb978" stroke-width="1.7"/>
<text x="177.80" y="202.60" font-size="6.4" text-anchor="start" fill="#262626" stroke="#262626" stroke-width="0.08" textLength="48.93" lengthAdjust="spacingAndGlyphs">Adaptive_3d_20hz</text>
<path d="M162.0 208.4H174.4" stroke="#a020f0" stroke-width="1.7"/>
<text x="177.80" y="210.80" font-size="6.4" text-anchor="start" fill="#262626" stroke="#262626" stroke-width="0.08" textLength="38.57" lengthAdjust="spacingAndGlyphs">ALES_2d_20hz</text>
<rect x="409.5" y="127.3" width="69.30000000000001" height="51.2" rx="1.5" fill="#ffffff" fill-opacity="0.8" stroke="#e0e0e0" stroke-width="0.8"/>
<path d="M411.4 132.1H423.3" stroke="#1f77b4" stroke-width="1.7"/>
<text x="426.60" y="134.50" font-size="6.4" text-anchor="start" fill="#262626" stroke="#262626" stroke-width="0.08" textLength="42.39" lengthAdjust="spacingAndGlyphs">MLE4_2d_interp</text>
<path d="M411.4 140.2H423.3" stroke="#ff7f0e" stroke-width="1.7"/>
<text x="426.60" y="142.60" font-size="6.4" text-anchor="start" fill="#262626" stroke="#262626" stroke-width="0.08" textLength="39.54" lengthAdjust="spacingAndGlyphs">MLE4_2d_20hz</text>
<path d="M411.4 148.3H423.3" stroke="#aaaaaa" stroke-width="1.7"/>
<text x="426.60" y="150.70" font-size="6.4" text-anchor="start" fill="#262626" stroke="#262626" stroke-width="0.08" textLength="39.54" lengthAdjust="spacingAndGlyphs">MLE4_3d_20hz</text>
<path d="M411.4 156.5H423.3" stroke="#474747" stroke-width="1.7"/>
<text x="426.60" y="158.90" font-size="6.4" text-anchor="start" fill="#262626" stroke="#262626" stroke-width="0.08" textLength="48.93" lengthAdjust="spacingAndGlyphs">Adaptive_2d_20hz</text>
<path d="M411.4 164.9H423.3" stroke="#ffb978" stroke-width="1.7"/>
<text x="426.60" y="167.30" font-size="6.4" text-anchor="start" fill="#262626" stroke="#262626" stroke-width="0.08" textLength="48.93" lengthAdjust="spacingAndGlyphs">Adaptive_3d_20hz</text>
<path d="M411.4 173.2H423.3" stroke="#a020f0" stroke-width="1.7"/>
<text x="426.60" y="175.60" font-size="6.4" text-anchor="start" fill="#262626" stroke="#262626" stroke-width="0.08" textLength="38.57" lengthAdjust="spacingAndGlyphs">ALES_2d_20hz</text>
</svg></body></html>
